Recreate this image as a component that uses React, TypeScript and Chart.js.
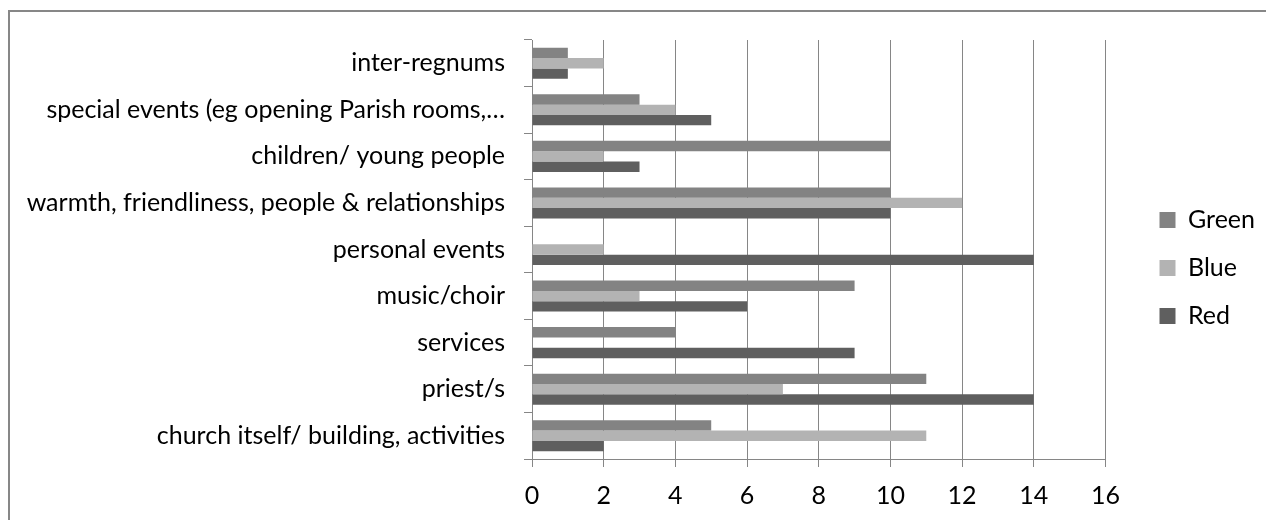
import React, { useEffect, useRef } from 'react';
import { Chart, registerables } from 'chart.js';

Chart.register(...registerables);

const categories = [
  'inter-regnums',
  'special events (eg opening Parish rooms,…',
  'children/ young people',
  'warmth, friendliness, people & relationships',
  'personal events',
  'music/choir',
  'services',
  'priest/s',
  'church itself/ building, activities',
];
const seriesNames = ['Green', 'Blue', 'Red'];
const greenValues = [1, 3, 10, 10, 0, 9, 4, 11, 5];
const blueValues = [2, 4, 2, 12, 2, 3, 0, 7, 11];
const redValues = [1, 5, 3, 10, 14, 6, 9, 14, 2];
const xMin = 0;
const xMax = 16;
const xStep = 2;

const seriesColors = ['#838383', '#b3b3b3', '#5f5f5f'];
const FONT = 'Lato';
const FS = 25;
const gridColor = '#868686';

export default function App() {
  const ref = useRef<HTMLCanvasElement | null>(null);
  useEffect(() => {
    if (!ref.current) return;
    const values = [greenValues, blueValues, redValues];
    const chart = new Chart(ref.current, {
      type: 'bar',
      data: {
        labels: categories,
        datasets: seriesNames.map((name, i) => ({
          label: name,
          data: values[i],
          backgroundColor: seriesColors[i],
          borderWidth: 0,
          categoryPercentage: 0.667,
          barPercentage: 1,
        })),
      },
      options: {
        indexAxis: 'y',
        responsive: false,
        animation: false,
        devicePixelRatio: 1,
        layout: { padding: { top: 4, bottom: 0, left: 0, right: 1 } },
        plugins: {
          tooltip: { enabled: false },
          legend: {
            position: 'right',
            labels: {
              boxWidth: 16,
              boxHeight: 16,
              padding: 23,
              color: '#000',
              font: { family: FONT, size: FS },
            },
          },
        },
        scales: {
          x: {
            type: 'linear',
            position: 'bottom',
            min: xMin,
            max: xMax,
            ticks: { stepSize: xStep, padding: 14, color: '#000', font: { family: FONT, size: FS } },
            grid: { color: gridColor, lineWidth: 1, tickLength: 8, drawTicks: true },
            border: { display: true, color: gridColor, width: 1 },
            afterFit: (s: any) => { s.height = 61; },
          },
          y: {
            type: 'category',
            position: 'left',
            offset: true,
            ticks: { padding: 19, color: '#000', font: { family: FONT, size: FS }, autoSkip: false },
            grid: { offset: true, drawOnChartArea: false, drawTicks: true, tickLength: 8, color: gridColor, lineWidth: 1 },
            border: { display: true, color: gridColor, width: 1 },
            afterFit: (s: any) => {
              s.width = 522;
              s.paddingTop = 28;
              s.paddingBottom = 0;
            },
          },
          pad: {
            type: 'linear',
            position: 'right',
            display: true,
            grid: { display: false, drawTicks: false },
            border: { display: false },
            ticks: { display: false },
            afterFit: (s: any) => {
              s.width = 31;
              s.paddingTop = 0;
              s.paddingBottom = 0;
            },
          },
        },
      } as any,
    });
    return () => chart.destroy();
  }, []);
  return (
    <div
      style={{
        position: 'absolute',
        left: 8,
        top: 10,
        width: 1258,
        height: 510,
        borderTop: '2px solid #878787',
        borderLeft: '2px solid #878787',
        boxSizing: 'border-box',
        background: '#fff',
      }}
    >
      <canvas ref={ref} width={1256} height={508} style={{ display: 'block' }} />
    </div>
  );
}
